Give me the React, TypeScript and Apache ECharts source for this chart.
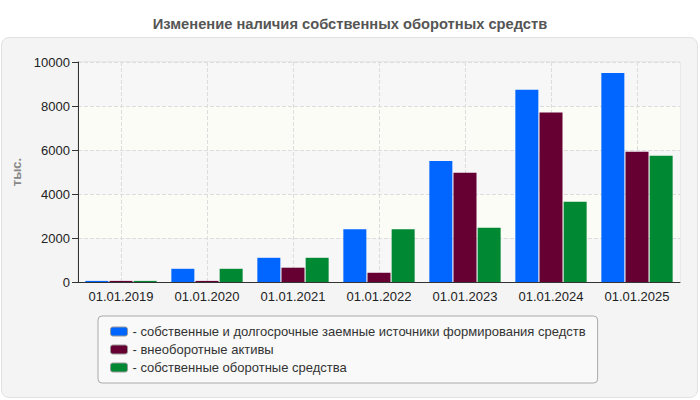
import React, { useEffect, useRef } from 'react';
import * as echarts from 'echarts';

const categories = ['01.01.2019', '01.01.2020', '01.01.2021', '01.01.2022', '01.01.2023', '01.01.2024', '01.01.2025'];
const seriesNames = [
  'собственные и долгосрочные заемные источники формирования средств',
  'внеоборотные активы',
  'собственные оборотные средства',
];
const sourcesValues = [50, 600, 1100, 2400, 5500, 8740, 9500];
const fixedAssetsValues = [50, 50, 650, 420, 4970, 7700, 5920];
const workingCapitalValues = [50, 600, 1100, 2400, 2470, 3650, 5740];
const colors = ['#0066ff', '#660033', '#008833'];

const FONT = 'Liberation Sans, Arial, sans-serif';

export default function App() {
  const chartRef = useRef<HTMLDivElement>(null);

  useEffect(() => {
    document.body.style.margin = '0';
    if (!chartRef.current) return;
    const chart = echarts.init(chartRef.current, null, { renderer: 'svg' });

    const barSeries = [sourcesValues, fixedAssetsValues, workingCapitalValues].map((values, i) => ({
      name: seriesNames[i],
      type: 'bar' as const,
      data: values,
      barWidth: 23,
      barGap: '5%',
      itemStyle: { color: colors[i] },
    }));

    chart.setOption({
      animation: false,
      backgroundColor: 'transparent',
      textStyle: { fontFamily: FONT },
      title: {
        text: 'Изменение наличия собственных оборотных средств',
        left: 'center',
        top: 11,
        textStyle: { fontSize: 14.7, fontWeight: 'bold', color: '#555', fontFamily: FONT },
      },
      grid: {
        left: 78,
        right: 20,
        top: 62,
        bottom: 118,
        show: true,
        backgroundColor: 'transparent',
        borderColor: '#dddddd',
        borderWidth: 1,
      },
      legend: {
        data: seriesNames,
        orient: 'vertical',
        left: 98,
        top: 316,
        padding: [9, 12, 9, 12],
        backgroundColor: '#f9f9f9',
        borderColor: '#aaaaaa',
        borderWidth: 1,
        borderRadius: 4,
        icon: 'roundRect',
        itemWidth: 17,
        itemHeight: 9,
        itemGap: 5,
        itemStyle: { borderColor: '#999', borderWidth: 1 },
        formatter: (name: string) => '- ' + name,
        textStyle: { fontSize: 13, color: '#333', fontFamily: FONT },
      },
      xAxis: {
        type: 'category',
        data: categories,
        axisLine: { lineStyle: { color: '#333' } },
        axisTick: { alignWithLabel: true, length: 5, lineStyle: { color: '#333' } },
        axisLabel: { fontSize: 13, color: '#222', margin: 8, fontFamily: FONT },
        // vertical grid lines sit on the category centres, like the ticks
        splitLine: { show: true, alignWithLabel: true, lineStyle: { color: '#dddddd', type: 'dashed' } },
      },
      yAxis: {
        type: 'value',
        min: 0,
        max: 10000,
        interval: 2000,
        name: 'тыс.',
        nameLocation: 'middle',
        nameGap: 48,
        nameTextStyle: { fontSize: 13, fontWeight: 'bold', color: '#888', fontFamily: FONT },
        axisLine: { show: true, lineStyle: { color: '#333' } },
        axisTick: { show: true, length: 6, lineStyle: { color: '#333' } },
        axisLabel: { fontSize: 13, color: '#222', margin: 8, fontFamily: FONT, formatter: (v: number) => String(v) },
        splitLine: { lineStyle: { color: '#dddddd', type: 'dashed' } },
        splitArea: { show: true, areaStyle: { color: ['#f7f7f7', '#fcfcf6'] } },
      },
      series: barSeries,
    });

    return () => chart.dispose();
  }, []);

  return (
    <div style={{ position: 'relative', width: 700, height: 400, background: '#fff' }}>
      <div
        style={{
          position: 'absolute',
          left: 1,
          top: 37,
          width: 695,
          height: 359,
          background: '#f4f4f4',
          border: '1px solid #e2e2e2',
          borderRadius: 8,
        }}
      />
      <div ref={chartRef} style={{ position: 'absolute', left: 0, top: 0, width: 700, height: 400 }} />
    </div>
  );
}
